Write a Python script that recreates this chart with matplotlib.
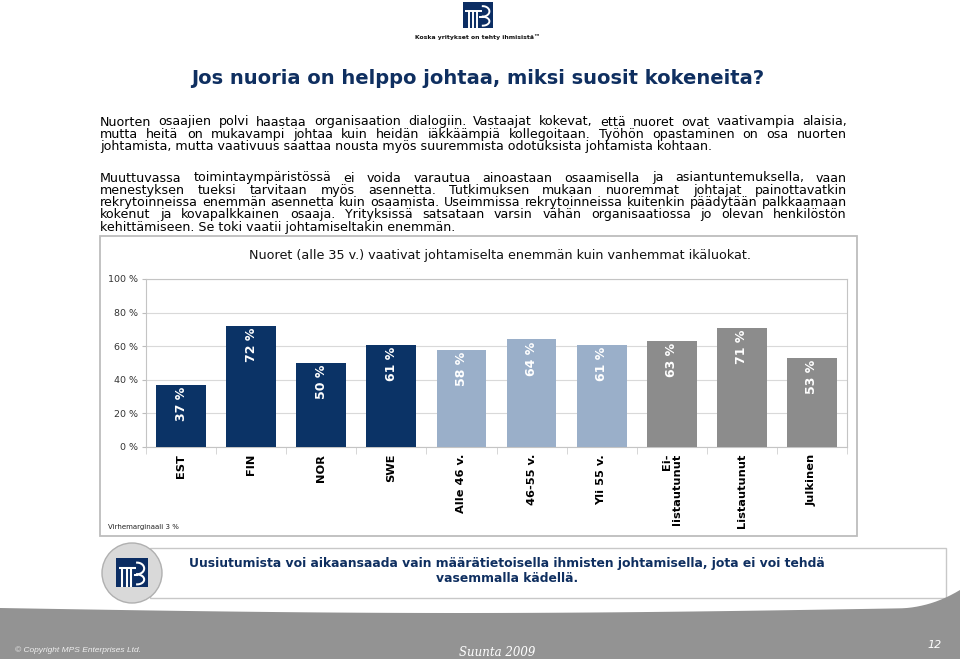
import numpy as np
import matplotlib
matplotlib.use("Agg")
import matplotlib.pyplot as plt
from matplotlib.patches import Rectangle, Circle, Polygon

# ---------------- data ----------------
categories = ["EST", "FIN", "NOR", "SWE", "Alle 46 v.", "46-55 v.", "Yli 55 v.",
              "Ei-\nlistautunut", "Listautunut", "Julkinen"]
values = [37, 72, 50, 61, 58, 64, 61, 63, 71, 53]
groups = ["maa", "maa", "maa", "maa", "ikä", "ikä", "ikä", "omistus", "omistus", "omistus"]
group_colors = {"maa": "#0b3366", "ikä": "#9aafc9", "omistus": "#8c8c8c"}
y_ticks = [0, 20, 40, 60, 80, 100]
y_tick_labels = ["0 %", "20 %", "40 %", "60 %", "80 %", "100 %"]
value_labels = ["37 %", "72 %", "50 %", "61 %", "58 %", "64 %", "61 %", "63 %", "71 %", "53 %"]

title = "Jos nuoria on helppo johtaa, miksi suosit kokeneita?"
chart_title = "Nuoret (alle 35 v.) vaativat johtamiselta enemmän kuin vanhemmat ikäluokat."
para1 = [
    "Nuorten osaajien polvi haastaa organisaation dialogiin. Vastaajat kokevat, että nuoret ovat vaativampia alaisia,",
    "mutta heitä on mukavampi johtaa kuin heidän iäkkäämpiä kollegoitaan. Työhön opastaminen on osa nuorten",
    "johtamista, mutta vaativuus saattaa nousta myös suuremmista odotuksista johtamista kohtaan.",
]
para2 = [
    "Muuttuvassa toimintaympäristössä ei voida varautua ainoastaan osaamisella ja asiantuntemuksella, vaan",
    "menestyksen tueksi tarvitaan myös asennetta. Tutkimuksen mukaan  nuoremmat johtajat painottavatkin",
    "rekrytoinneissa enemmän asennetta kuin osaamista. Useimmissa rekrytoinneissa kuitenkin päädytään palkkaamaan",
    "kokenut ja kovapalkkainen osaaja. Yrityksissä satsataan varsin vähän organisaatiossa jo olevan henkilöstön",
    "kehittämiseen. Se toki vaatii johtamiseltakin enemmän.",
]
callout = ["Uusiutumista voi aikaansaada vain määrätietoisella ihmisten johtamisella, jota ei voi tehdä",
           "vasemmalla kädellä."]
tagline = "Koska yritykset on tehty ihmisistä™"
footnote = "Virhemarginaali 3 %"
copyright_text = "© Copyright MPS Enterprises Ltd."
footer_mid = "Suunta 2009"
page_no = "12"

NAVY = "#0f2f60"

# ---------------- figure ----------------
W, H = 960, 659
fig = plt.figure(figsize=(9.6, 6.59), dpi=100)
fig.patch.set_facecolor("white")
ov = fig.add_axes([0, 0, 1, 1], zorder=0)
ov.set_xlim(0, W)
ov.set_ylim(H, 0)
ov.axis("off")
renderer = fig.canvas.get_renderer()


def text_width(s, **kw):
    t = ov.text(0, 0, s, **kw)
    w = t.get_window_extent(renderer).width
    t.remove()
    return w


def draw_logo(x0, y0, w, h):
    ov.add_patch(Rectangle((x0, y0), w, h, facecolor="#0b2d63", edgecolor="none", zorder=5))
    lw = max(w / 30.0, 0.6)
    ov.plot([x0 + 0.08 * w, x0 + 0.62 * w], [y0 + 0.36 * h, y0 + 0.36 * h],
            color="white", lw=lw * 1.4, zorder=6, solid_capstyle="butt")
    for fx in (0.2, 0.33, 0.46):
        ov.plot([x0 + fx * w, x0 + fx * w], [y0 + 0.36 * h, y0 + h],
                color="white", lw=lw * 1.4, zorder=6, solid_capstyle="butt")
    t = np.linspace(-np.pi / 2, np.pi / 2, 30)
    cx = x0 + 0.66 * w
    cy1, cy2 = y0 + 0.36 * h, y0 + 0.74 * h
    ov.plot(cx + 0.22 * w * np.cos(t), cy1 + 0.2 * h * np.sin(t), color="white", lw=lw * 1.4, zorder=6)
    ov.plot(cx + 0.22 * w * np.cos(t), cy2 + 0.17 * h * np.sin(t), color="white", lw=lw * 1.4, zorder=6)
    ov.plot([x0 + 0.58 * w, x0 + 0.66 * w], [y0 + 0.57 * h, y0 + 0.57 * h],
            color="white", lw=lw * 1.4, zorder=6)


# top logo + tagline
draw_logo(463, 2, 30, 26)
ov.text(478, 37, tagline, ha="center", va="center", fontsize=4.4, fontweight="bold", color="#111111")

# title
ov.text(478, 78, title, ha="center", va="center", fontsize=14, fontweight="bold", color=NAVY)

# justified paragraphs
X0, X1 = 100, 847
long_lines = para1[:-1] + para2[:-1]
base = 10.0
maxw = max(text_width(l, fontsize=base) for l in long_lines)
body_size = base * (X1 - X0) / maxw * 0.995


def justified(lines, y0, dy):
    for k, line in enumerate(lines):
        y = y0 + k * dy
        if k == len(lines) - 1:
            ov.text(X0, y, line, ha="left", va="center", fontsize=body_size, color="black")
            continue
        words = line.split()
        ws = [text_width(wd, fontsize=body_size) for wd in words]
        gap = (X1 - X0 - sum(ws)) / (len(words) - 1)
        x = X0
        for wd, ww in zip(words, ws):
            ov.text(x, y, wd, ha="left", va="center", fontsize=body_size, color="black")
            x += ww + gap


justified(para1, 122, 12.3)
justified(para2, 178, 12.3)

# chart box
ov.add_patch(Rectangle((100, 236), 757, 300, facecolor="white", edgecolor="#bdbdbd", lw=1.3, zorder=1))
ov.text(500, 256, chart_title, ha="center", va="center", fontsize=9.2, color="#111111")
ov.text(108, 527, footnote, ha="left", va="center", fontsize=5, color="#222222")

# ---------------- bar chart ----------------
left, right = 146 / W, 847 / W
bottom, top = 1 - 447 / H, 1 - 279 / H
ax = fig.add_axes([left, bottom, right - left, top - bottom], zorder=2)
ax.set_facecolor("none")
x = np.arange(len(categories))
colors = [group_colors[g] for g in groups]
ax.bar(x, values, width=0.71, color=colors, zorder=3)
for xi, v, lab in zip(x, values, value_labels):
    ax.annotate(lab, (xi, v), xytext=(0, -1.5), textcoords="offset points", rotation=90,
                ha="center", va="top", color="white", fontsize=9, fontweight="bold", zorder=4)
ax.set_xlim(-0.5, len(categories) - 0.5)
ax.set_ylim(0, 100)
ax.set_yticks(y_ticks)
ax.set_yticklabels(y_tick_labels, fontsize=6.8, color="#333333")
ax.yaxis.grid(True, color="#d9d9d9", lw=0.8, zorder=0)
ax.set_axisbelow(True)
ax.set_xticks(x)
ax.set_xticklabels(categories, rotation=90, fontsize=8.2, fontweight="bold", color="black",
                   linespacing=1.0)
for lab in ax.get_xticklabels():
    lab.set_multialignment("right")
ax.set_xticks(np.arange(-0.5, len(categories), 1.0), minor=True)
ax.tick_params(axis="x", which="major", length=0, pad=5)
ax.tick_params(axis="x", which="minor", length=5, color="#d0d0d0")
ax.tick_params(axis="y", length=3, color="#bdbdbd", pad=3)
for s in ax.spines.values():
    s.set_color("#c4c4c4")
    s.set_linewidth(0.8)

# ---------------- callout ----------------
ov.add_patch(Rectangle((150, 548), 796, 50, facecolor="white", edgecolor="#c8c8c8", lw=1.0, zorder=1))
ov.add_patch(Circle((132, 573), 30, facecolor="#d9d9d9", edgecolor="#b0b0b0", lw=1.0, zorder=2))
draw_logo(116, 558, 32, 29)
ov.text(507, 564, callout[0], ha="center", va="center", fontsize=8.9, fontweight="bold", color=NAVY)
ov.text(507, 579, callout[1], ha="center", va="center", fontsize=8.9, fontweight="bold", color=NAVY)

# ---------------- footer band ----------------
xs = np.linspace(0, W, 200)
ys = 608 + 5 * np.sin(np.pi * xs / 920) * (xs < 920) - 18 * np.clip((xs - 900) / 60, 0, 1) ** 2
poly = np.vstack([np.column_stack([xs, ys]), [[W, H], [0, H]]])
ov.add_patch(Polygon(poly, closed=True, facecolor="#939393", edgecolor="none", zorder=1))
ov.text(15, 650, copyright_text, ha="left", va="center", fontsize=6, style="italic",
        color="#eeeeee", family="Liberation Sans")
ov.text(497, 652, footer_mid, ha="center", va="center", fontsize=8.5, style="italic",
        color="white", family="DejaVu Serif")
ov.text(935, 645, page_no, ha="center", va="center", fontsize=8, style="italic", color="white")

fig.savefig("out.png", dpi=100)
